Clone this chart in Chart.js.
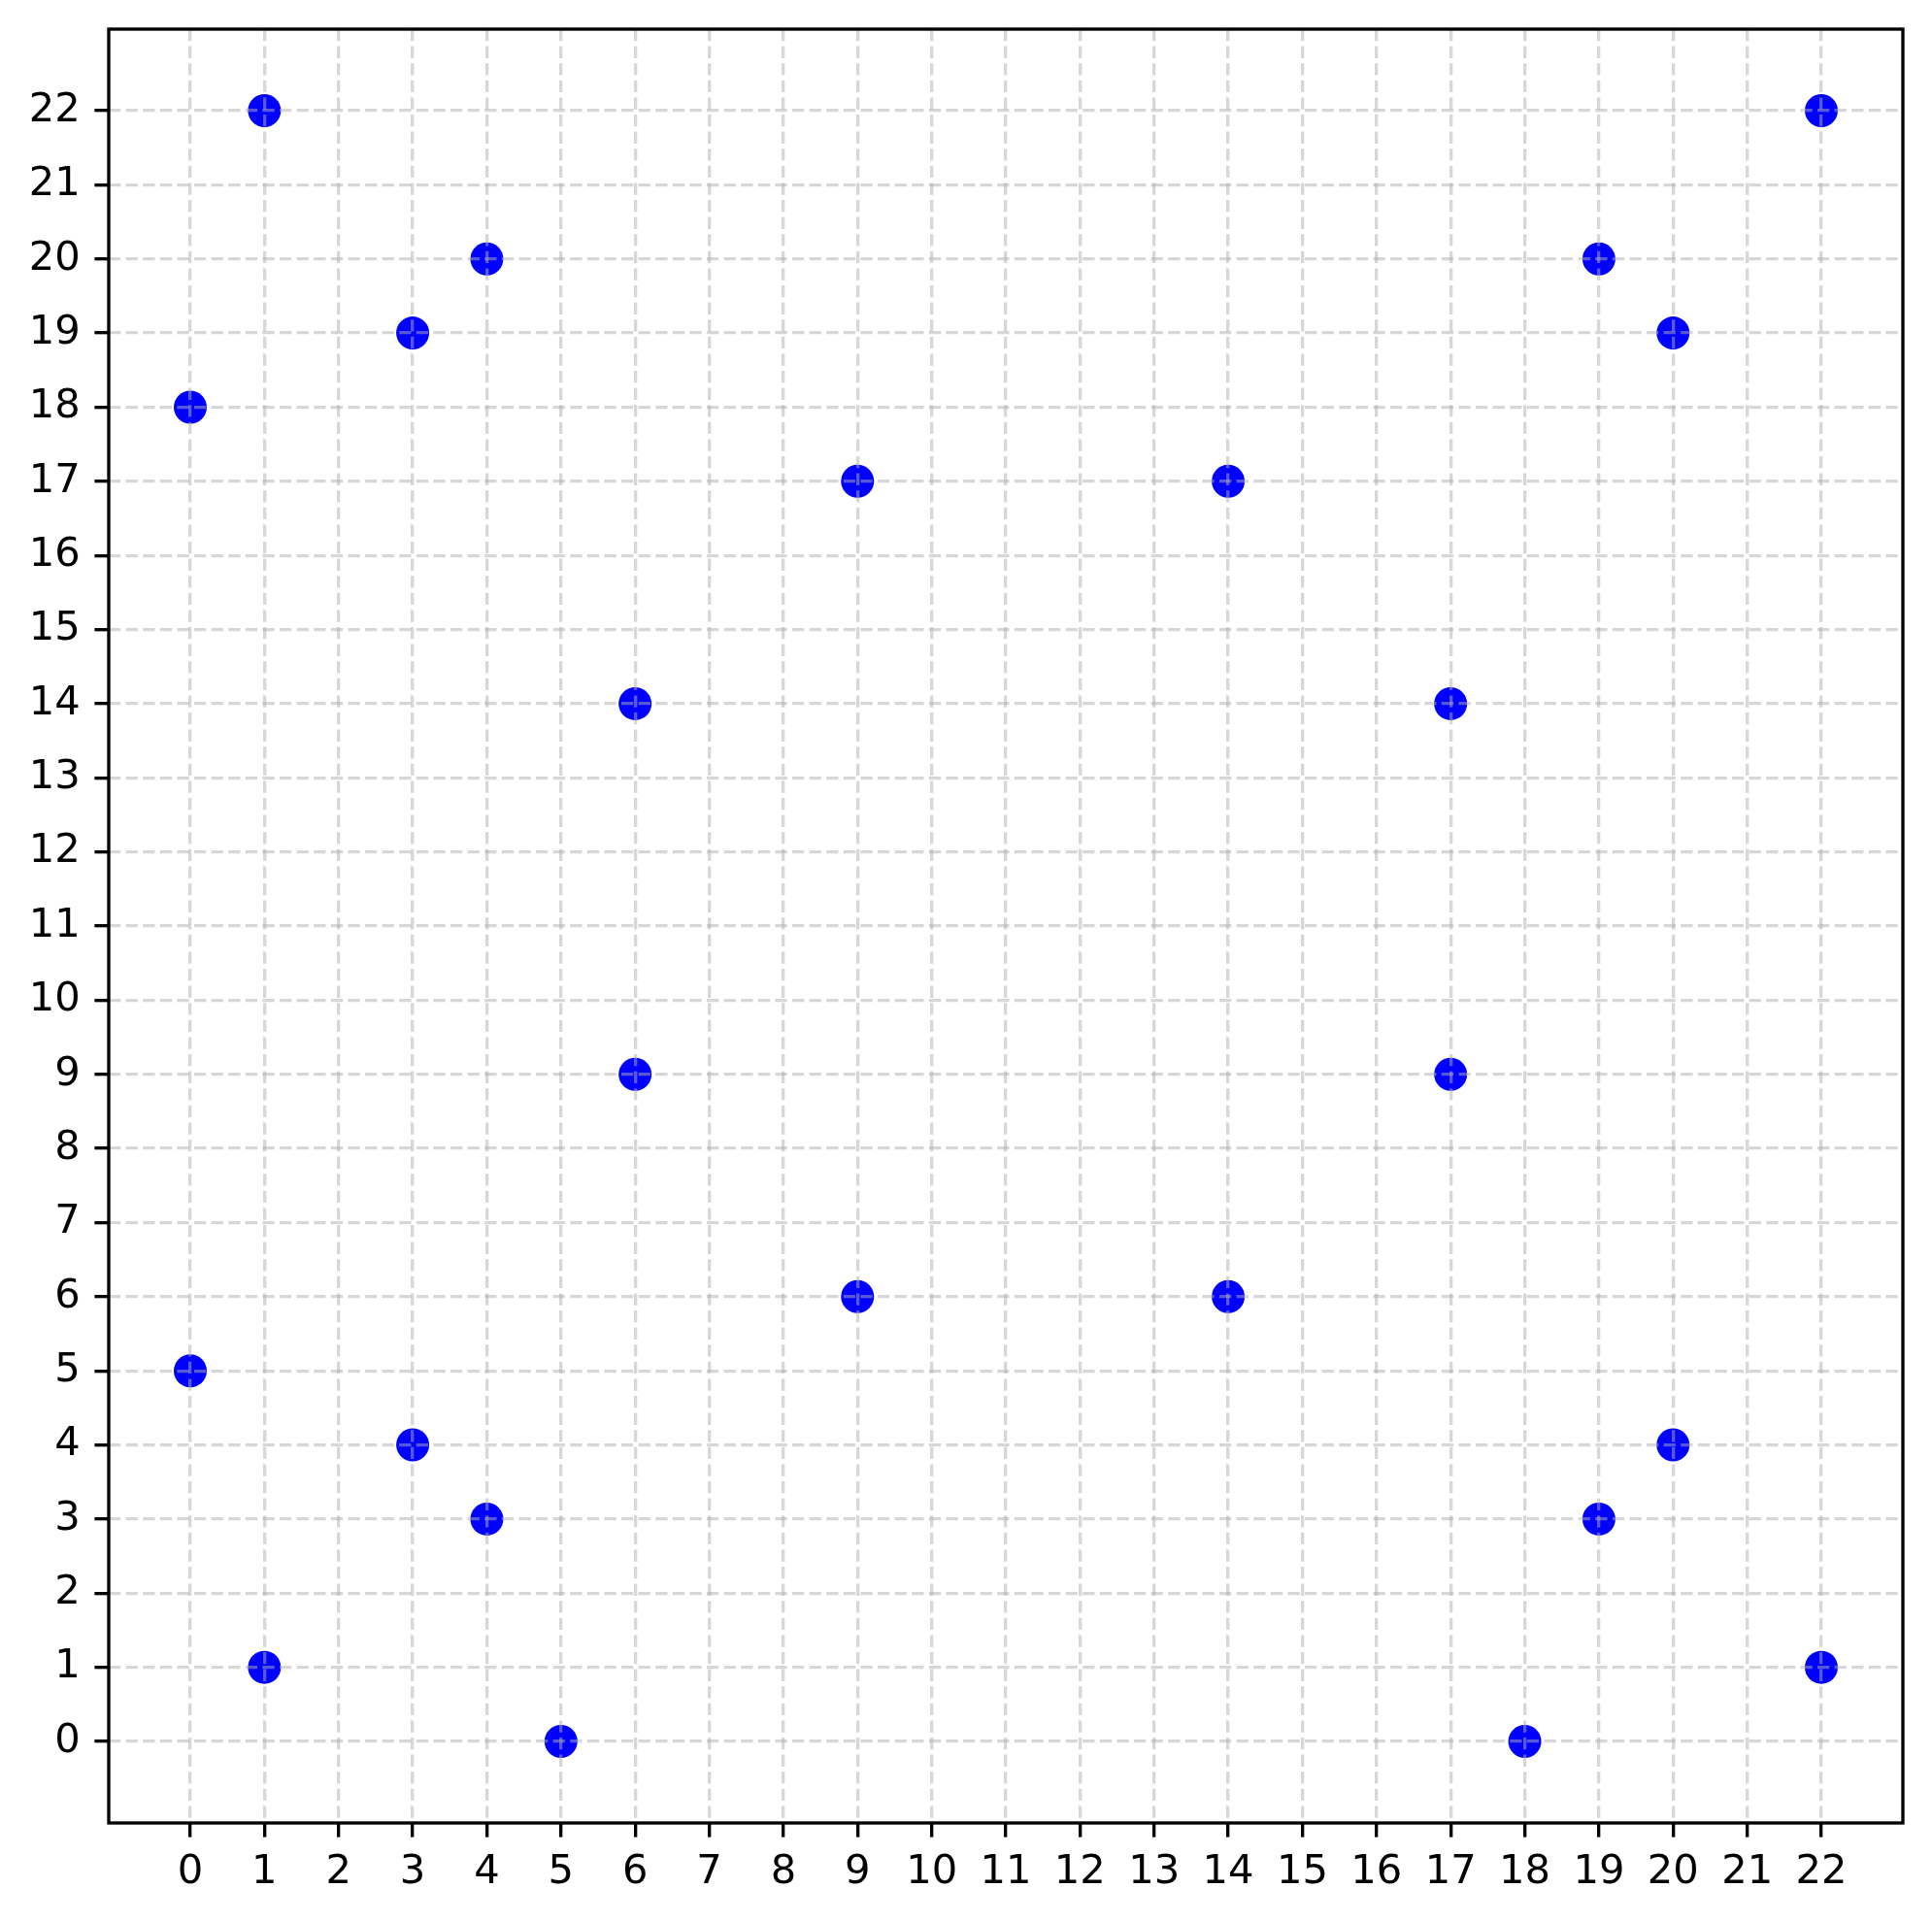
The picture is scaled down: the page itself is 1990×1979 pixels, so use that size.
<!DOCTYPE html>
<html>
<head>
<meta charset="utf-8">
<script src="https://cdn.jsdelivr.net/npm/chart.js@4"></script>
<style>
html,body{margin:0;padding:0;background:#fff;}
#wrap{width:1990px;height:1979px;}
</style>
</head>
<body>
<div id="wrap"><canvas id="c" width="1990" height="1979"></canvas></div>
<script>
const xValues = [0, 0, 1, 1, 3, 3, 4, 4, 5, 6, 6, 9, 9, 14, 14, 17, 17, 18, 19, 19, 20, 20, 22, 22];
const yValues = [18, 5, 22, 1, 19, 4, 20, 3, 0, 14, 9, 17, 6, 17, 6, 14, 9, 0, 20, 3, 19, 4, 22, 1];
const xTicks = [0,1,2,3,4,5,6,7,8,9,10,11,12,13,14,15,16,17,18,19,20,21,22];
const yTicks = [0,1,2,3,4,5,6,7,8,9,10,11,12,13,14,15,16,17,18,19,20,21,22];

const points = xValues.map((x, i) => ({x: x, y: yValues[i]}));

const FONT = {family: 'DejaVu Sans', size: 41.67};
const GRID = {
  color: 'rgba(176,176,176,0.5)',
  lineWidth: 3.33,
  z: 1,
  drawTicks: true,
  tickLength: 14.6,
  tickWidth: 3.33,
  tickColor: '#000',
  tickBorderDash: []
};
const BORDER = {display: false, dash: [12.3, 5.3]};

const framePlugin = {
  id: 'frame',
  afterDraw(chart) {
    const a = chart.chartArea, ctx = chart.ctx;
    ctx.save();
    ctx.strokeStyle = '#000';
    ctx.lineWidth = 3.33;
    ctx.setLineDash([]);
    ctx.strokeRect(a.left, a.top, a.right - a.left, a.bottom - a.top);
    ctx.restore();
  }
};

new Chart(document.getElementById('c'), {
  type: 'scatter',
  data: {
    datasets: [{
      data: points,
      backgroundColor: '#0000ff',
      borderColor: '#0000ff',
      borderWidth: 0,
      pointRadius: 17,
      pointHoverRadius: 17
    }]
  },
  options: {
    responsive: false,
    animation: false,
    events: [],
    layout: {padding: {left: 0, top: 30, right: 30, bottom: 0}},
    plugins: {legend: {display: false}, tooltip: {enabled: false}},
    scales: {
      x: {
        type: 'linear',
        min: -1.1, max: 23.1,
        afterBuildTicks: s => { s.ticks = xTicks.map(v => ({value: v})); },
        afterFit: s => { s.height = 101; s.paddingLeft = 0; s.paddingRight = 0; },
        grid: GRID,
        border: BORDER,
        ticks: {font: FONT, color: '#000', padding: 12, maxRotation: 0, autoSkip: false}
      },
      y: {
        type: 'linear',
        min: -1.1, max: 23.1,
        afterBuildTicks: s => { s.ticks = yTicks.map(v => ({value: v})); },
        afterFit: s => { s.width = 112; s.paddingTop = 0; s.paddingBottom = 0; },
        grid: GRID,
        border: BORDER,
        ticks: {font: FONT, color: '#000', padding: 14.6, autoSkip: false}
      }
    }
  },
  plugins: [framePlugin]
});
</script>
</body>
</html>
